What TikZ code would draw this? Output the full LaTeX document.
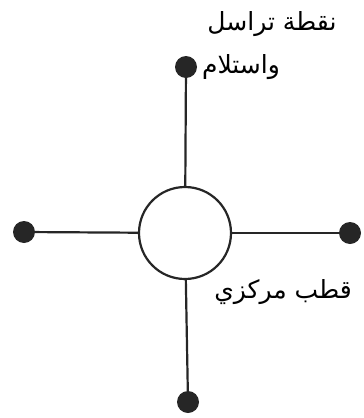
\documentclass[tikz,border=0pt]{standalone}
\usepackage{fontspec}
\newfontfamily\arabicfont[Script=Arabic]{DejaVu Sans}
\TeXXeTstate=1
\begin{document}
\begin{tikzpicture}[x=1pt,y=-1pt,
  link/.style={line width=2.2pt, draw=black!85},
  dotnode/.style={circle, fill=black!85, minimum size=22pt, inner sep=0pt},
  hub/.style={circle, draw=black!85, line width=2.2pt, minimum size=92pt, inner sep=0pt, fill=white},
  lbl/.style={font=\arabicfont\fontsize{25}{28}\selectfont, inner sep=0pt}]
\useasboundingbox (0,0) rectangle (364,418);
\node[hub] (c) at (185,233) {};
\node[dotnode] (t) at (186,67) {};
\node[dotnode] (l) at (24,232) {};
\node[dotnode] (r) at (350,233) {};
\node[dotnode] (b) at (188,402) {};
\draw[link] (t) -- (c);
\draw[link] (l) -- (c);
\draw[link] (r) -- (c);
\draw[link] (b) -- (c);
\node[lbl] (l1) at (272,24) {\beginR نقطة تراسل\endR};
\node[lbl] (l2) at (241,67) {\beginR واستلام\endR};
\node[lbl] (l3) at (283,292) {\beginR قطب مركزي\endR};
\end{tikzpicture}
\end{document}
